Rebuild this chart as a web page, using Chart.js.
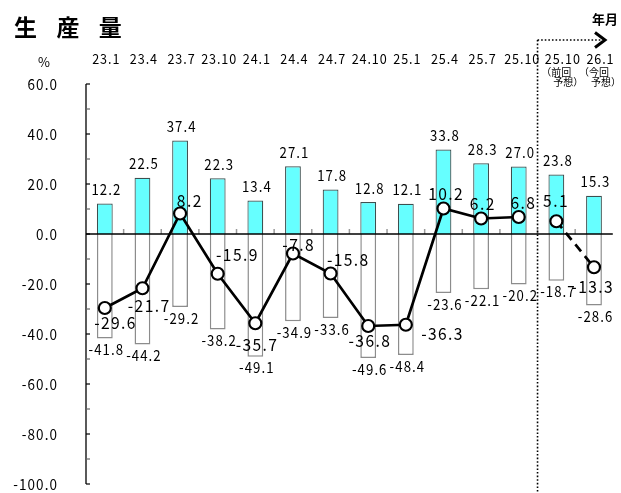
<!DOCTYPE html>
<html>
<head>
<meta charset="utf-8">
<script src="https://cdn.jsdelivr.net/npm/chart.js@4"></script>
<style>
  html, body { margin: 0; padding: 0; background: #fff; }
  #wrap { width: 621px; height: 493px; }
</style>
</head>
<body>
<div id="wrap"><canvas id="c" width="621" height="493"></canvas></div>
<script>
// 生産量 DI: categories (year.month) and the three series
const categories = ['23.1', '23.4', '23.7', '23.10', '24.1', '24.4', '24.7', '24.10',
                    '25.1', '25.4', '25.7', '25.10', '25.10', '26.1'];
const forecastNoteTop = ['（前回', '（今回'];
const forecastNoteBottom = ['予想）', '予想）'];
const upValues = [12.2, 22.5, 37.4, 22.3, 13.4, 27.1, 17.8, 12.8, 12.1, 33.8, 28.3, 27.0, 23.8, 15.3];
const downValues = [-41.8, -44.2, -29.2, -38.2, -49.1, -34.9, -33.6, -49.6, -48.4, -23.6, -22.1, -20.2, -18.7, -28.6];
const diValues = [-29.6, -21.7, 8.2, -15.9, -35.7, -7.8, -15.8, -36.8, -36.3, 10.2, 6.2, 6.8, 5.1, -13.3];
const yMin = -100, yMax = 60, yMajorStep = 20, yMinorStep = 10;
const forecastStart = 12; // first forecast column

// where each DI label sits relative to its marker (dx, dy of the text centre)
const diLabelOffsets = [[10, 15], [6, 18], [9, -13], [19, -19], [1, 22], [5, -9], [17, -14],
                        [1, 15], [36, 9], [2, -15], [1, -15], [4, -14], [-1, -20], [-2, 20]];

const JP = '"Noto Sans CJK JP", sans-serif';

function drawText(ctx, s, x, y, o) {
  ctx.save();
  ctx.font = (o.weight || 'normal') + ' ' + o.size + 'px ' + (o.family || JP);
  ctx.fillStyle = o.color || '#000';
  ctx.textBaseline = o.baseline || 'alphabetic';
  ctx.textAlign = 'left';
  if (o.spacing !== undefined) ctx.letterSpacing = o.spacing + 'px';
  const sx = o.sx || 1;
  let w = ctx.measureText(s).width;
  if (o.spacing) w -= o.spacing; // no trailing gap after the last glyph
  w *= sx;
  let left = x;
  if (o.align === 'center') left = x - w / 2;
  else if (o.align === 'right') left = x - w;
  ctx.translate(left, y);
  ctx.scale(sx, 1);
  ctx.fillText(s, 0, 0);
  ctx.restore();
}

function dotted(ctx, x1, y1, x2, y2) {
  ctx.save();
  ctx.strokeStyle = '#000';
  ctx.lineWidth = 1.6;
  ctx.setLineDash([1.6, 2]);
  ctx.beginPath();
  ctx.moveTo(x1, y1);
  ctx.lineTo(x2, y2);
  ctx.stroke();
  ctx.restore();
}

const numStyle = { size: 15, sx: 0.88, spacing: 1.2, align: 'center' };
const diStyle = { size: 17, sx: 0.92, spacing: 1.5, align: 'center' };

// horizontal nudge of a category label from its column centre
function labelShift(i) {
  if (i >= forecastStart) return 6;
  return i === forecastStart - 1 ? 3 : 1;
}

const decor = {
  id: 'decor',
  beforeDatasetDraw(chart, args) {
    if (args.index !== 2) return;
    const { ctx, chartArea, scales: { x, y } } = chart;
    const y0 = y.getPixelForValue(0);
    ctx.save();
    // small ticks between categories, pointing up from the zero line
    ctx.strokeStyle = '#999';
    ctx.lineWidth = 1.5;
    const w = x.getPixelForValue(1) - x.getPixelForValue(0);
    for (let k = 1; k < categories.length; k++) {
      const bx = x.getPixelForValue(k) - w / 2;
      ctx.beginPath();
      ctx.moveTo(bx, y0 - 5);
      ctx.lineTo(bx, y0);
      ctx.stroke();
    }
    // zero line
    ctx.strokeStyle = '#000';
    ctx.lineWidth = 1.5;
    ctx.beginPath();
    ctx.moveTo(chartArea.left, y0);
    ctx.lineTo(chartArea.right, y0);
    ctx.stroke();
    ctx.restore();
  },
  afterDatasetsDraw(chart) {
    const { ctx, scales: { x, y } } = chart;
    // bar values
    upValues.forEach((v, i) => {
      drawText(ctx, v.toFixed(1), x.getPixelForValue(i) + 1, y.getPixelForValue(v) - 8.5, numStyle);
    });
    downValues.forEach((v, i) => {
      drawText(ctx, v.toFixed(1), x.getPixelForValue(i) + 1, y.getPixelForValue(v) + 16.5, numStyle);
    });
    // DI values
    const meta = chart.getDatasetMeta(2);
    diValues.forEach((v, i) => {
      const p = meta.data[i];
      const [dx, dy] = diLabelOffsets[i];
      drawText(ctx, v.toFixed(1), p.x + dx, p.y + dy + 6.2, diStyle);
    });
  },
  afterDraw(chart) {
    const { ctx, chartArea, scales: { x, y } } = chart;
    ctx.save();
    // y axis line with inward ticks
    ctx.strokeStyle = '#000';
    ctx.lineWidth = 1.3;
    ctx.beginPath();
    ctx.moveTo(chartArea.left, chartArea.top);
    ctx.lineTo(chartArea.left, chartArea.bottom);
    ctx.stroke();
    for (let v = yMin; v <= yMax; v += yMinorStep) {
      const py = y.getPixelForValue(v);
      const major = (v - yMin) % yMajorStep === 0;
      ctx.strokeStyle = major ? '#000' : '#666';
      ctx.lineWidth = 1.2;
      ctx.beginPath();
      ctx.moveTo(chartArea.left, py);
      ctx.lineTo(chartArea.left + 4, py);
      ctx.stroke();
      if (major) {
        drawText(ctx, v.toFixed(1), 57, py + 5.5, { size: 15, sx: 0.9, spacing: 1.2, align: 'right' });
      }
    }
    ctx.restore();

    // category labels above the plot
    categories.forEach((c, i) => {
      drawText(ctx, c, x.getPixelForValue(i) + labelShift(i), 63.5,
               { size: 14, sx: 0.9, spacing: 1, align: 'center' });
    });
    forecastNoteTop.forEach((t, j) => {
      const i = forecastStart + j;
      const lc = x.getPixelForValue(i) + labelShift(i);
      drawText(ctx, t, lc - 21, 72, { size: 10, baseline: 'middle' });
      drawText(ctx, forecastNoteBottom[j], lc - 9, 82.5, { size: 10, baseline: 'middle' });
    });

    // forecast divider and arrow
    const w = x.getPixelForValue(1) - x.getPixelForValue(0);
    const fx = x.getPixelForValue(forecastStart) - w / 2;
    dotted(ctx, fx, 40, fx, chart.height);
    dotted(ctx, fx, 40, 601, 40);
    ctx.save();
    ctx.strokeStyle = '#000';
    ctx.lineWidth = 3;
    ctx.lineJoin = 'miter';
    ctx.beginPath();
    ctx.moveTo(595, 32.5);
    ctx.lineTo(605, 40);
    ctx.lineTo(595, 47.5);
    ctx.stroke();
    ctx.restore();

    // headings
    drawText(ctx, '生　産　量', 14, 27, { size: 23, weight: 'bold', baseline: 'middle', spacing: -1.8 });
    drawText(ctx, '年月', 592, 19, { size: 13, weight: 'bold', baseline: 'middle' });
    drawText(ctx, '%', 44, 62, { size: 13, baseline: 'middle', align: 'center' });
  }
};

new Chart(document.getElementById('c'), {
  data: {
    labels: categories,
    datasets: [
      {
        type: 'bar', label: '上昇', data: upValues,
        backgroundColor: '#66ffff', borderColor: '#3d4f4f', borderWidth: 1.2,
        grouped: false, order: 2, categoryPercentage: 1, barPercentage: 0.42
      },
      {
        type: 'bar', label: '下降', data: downValues,
        backgroundColor: '#ffffff', borderColor: '#8c8c8c', borderWidth: 1.5,
        grouped: false, order: 1, categoryPercentage: 1, barPercentage: 0.42
      },
      {
        type: 'line', label: 'DI', data: diValues,
        borderColor: '#000', borderWidth: 2.7, tension: 0,
        pointRadius: 6, pointBackgroundColor: '#fff', pointBorderColor: '#000', pointBorderWidth: 2.2,
        order: 0,
        segment: {
          borderColor: c => c.p0DataIndex === forecastStart - 1 ? 'rgba(0,0,0,0)' : undefined,
          borderDash: c => c.p0DataIndex >= forecastStart ? [9, 6] : undefined
        }
      }
    ]
  },
  options: {
    responsive: false,
    animation: false,
    events: [],
    layout: { padding: { left: 86, top: 84, right: 0, bottom: 9 } },
    plugins: { legend: { display: false }, tooltip: { enabled: false }, title: { display: false } },
    scales: {
      x: { display: false, offset: true },
      y: { display: false, min: yMin, max: yMax }
    }
  },
  plugins: [decor]
});
</script>
</body>
</html>
